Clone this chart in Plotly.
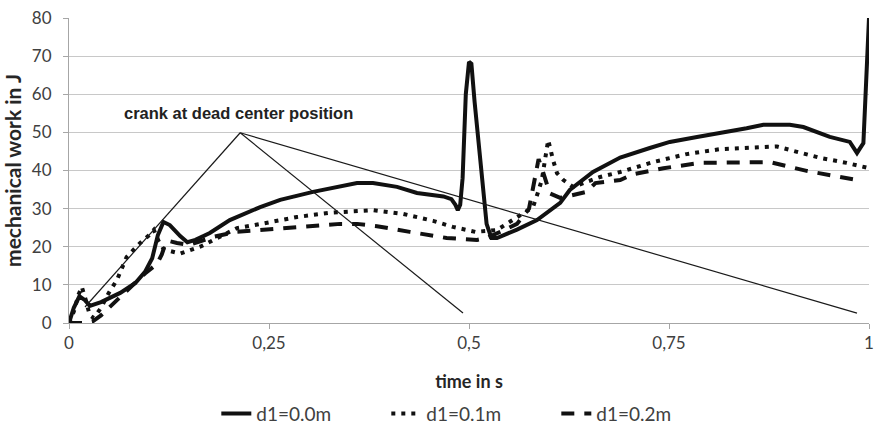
import plotly.graph_objects as go

# ---- data ----
time_d00 = [0, 0.006, 0.013, 0.02, 0.026, 0.04, 0.064, 0.083, 0.095, 0.104, 0.111, 0.118, 0.126,
            0.139, 0.148, 0.158, 0.176, 0.201, 0.239, 0.264, 0.305, 0.34, 0.36, 0.38, 0.41, 0.435,
            0.468, 0.478, 0.483, 0.486, 0.489, 0.492, 0.496, 0.5, 0.503, 0.507, 0.515, 0.522, 0.528,
            0.535, 0.56, 0.585, 0.614, 0.626, 0.655, 0.689, 0.726, 0.751, 0.785, 0.814, 0.847, 0.868,
            0.889, 0.901, 0.918, 0.951, 0.976, 0.985, 0.993, 0.997, 1.0]
work_d00 = [0, 4, 7, 6, 4.5, 5.5, 7.9, 10.5, 13.4, 17, 23, 26.5, 25.7,
            22.8, 21.2, 21.8, 23.6, 27, 30.4, 32.3, 34.4, 36, 36.7, 36.7, 35.7, 34.1,
            33.2, 32.5, 31, 29.6, 31, 38, 60, 68.5, 68, 58, 40, 26, 22.3,
            22.3, 24.5, 27, 31.5, 34.9, 39.6, 43.4, 45.9, 47.5, 48.8, 49.8, 51.1, 52,
            51.9, 52, 51.4, 48.8, 47.5, 44.6, 47.2, 65, 80]

time_d01 = [0, 0.006, 0.012, 0.016, 0.021, 0.026, 0.031, 0.04, 0.05, 0.06, 0.072, 0.089, 0.1,
            0.106, 0.112, 0.118, 0.124, 0.139, 0.164, 0.189, 0.21, 0.23, 0.251, 0.285, 0.326,
            0.368, 0.38, 0.418, 0.443, 0.455, 0.48, 0.508, 0.535, 0.555, 0.57, 0.58, 0.586, 0.591,
            0.595, 0.599, 0.605, 0.61, 0.618, 0.63, 0.664, 0.689, 0.73, 0.772, 0.814, 0.855, 0.885,
            0.91, 0.939, 0.972, 1.0]
work_d01 = [0, 3, 7.5, 9.5, 6, 2, 1.3, 4, 8, 11.3, 17.3, 21, 23,
            24.4, 21.5, 19.5, 19, 18.2, 20, 22.6, 24.9, 25.6, 26.5, 27.8, 28.9,
            29.6, 29.6, 28.6, 27.5, 26.8, 25.2, 23.9, 24.4, 27, 29, 30.4, 34.1, 37.5,
            42.8, 48, 42.8, 39.3, 37.5, 35.7, 38.3, 39.6, 42.2, 44.3, 45.6, 45.9, 46.3,
            44.9, 43.3, 42, 40.6]

time_d02 = [0, 0.02, 0.03, 0.04, 0.05, 0.06, 0.07, 0.08, 0.095, 0.11, 0.116, 0.12, 0.125, 0.135,
            0.15, 0.165, 0.18, 0.21, 0.243, 0.285, 0.339, 0.36, 0.385, 0.426, 0.472, 0.51, 0.522,
            0.54, 0.56, 0.575, 0.58, 0.587, 0.592, 0.601, 0.614, 0.63, 0.647, 0.658, 0.689, 0.705,
            0.743, 0.789, 0.835, 0.876, 0.922, 0.968, 0.99]
work_d02 = [0, 0, 0.5, 2, 4, 6, 8, 10, 13, 15.5, 18, 20.5, 21.5, 21,
            20.5, 21.5, 22.6, 23.9, 24.4, 25.2, 26, 26, 25.4, 23.9, 22.3, 21.8, 22.3,
            24, 26, 30, 36, 43, 40, 34, 32.8, 33.5, 34.4, 36.7, 37.5, 39,
            40.6, 42, 42.2, 42.2, 39.9, 38, 37.3]

series_names = ["d1=0.0m", "d1=0.1m", "d1=0.2m"]

x_tick_vals = [0, 0.25, 0.5, 0.75, 1]
x_tick_text = ["0", "0,25", "0,5", "0,75", "1"]
y_tick_vals = [0, 10, 20, 30, 40, 50, 60, 70, 80]

# annotation ("crank at dead center position") pointer lines: apex and three ends
pointer_apex = (0.214, 49.9)
pointer_ends_x = [0.02, 0.4925, 0.985]
pointer_ends_y = [4.2, 2.6, 2.6]
note_text = "crank at dead center position"
note_pos = (0.212, 55.1)

# ---- figure ----
ink = "#111111"
fig = go.Figure()
fig.add_trace(go.Scatter(x=time_d00, y=work_d00, name=series_names[0], mode="lines",
                         line=dict(color=ink, width=4)))
fig.add_trace(go.Scatter(x=time_d01, y=work_d01, name=series_names[1], mode="lines",
                         line=dict(color=ink, width=4, dash="4px,6px")))
fig.add_trace(go.Scatter(x=time_d02, y=work_d02, name=series_names[2], mode="lines",
                         line=dict(color=ink, width=4, dash="13px,10px")))

for ex, ey in zip(pointer_ends_x, pointer_ends_y):
    fig.add_shape(type="line", xref="x", yref="y",
                  x0=pointer_apex[0], y0=pointer_apex[1], x1=ex, y1=ey,
                  line=dict(color="#1a1a1a", width=1.2))

fig.add_annotation(x=note_pos[0], y=note_pos[1], xref="x", yref="y",
                   text=note_text, showarrow=False, xanchor="center", yanchor="middle",
                   font=dict(family="Liberation Sans, Arial", size=16.5, color="#222222", weight="bold"))

fig.update_layout(
    width=874, height=429,
    margin=dict(l=69, r=5, t=18, b=106),
    paper_bgcolor="white", plot_bgcolor="white",
    font=dict(family="Lato, Open Sans, sans-serif", color="#404040"),
    showlegend=True,
    legend=dict(orientation="h", xref="container", yref="container",
                x=0.2475, xanchor="left", y=0.036, yanchor="middle",
                font=dict(size=19, color="#404040"), entrywidth=125),
)
fig.update_xaxes(range=[0, 1], tickvals=x_tick_vals, ticktext=x_tick_text, automargin=False,
                 ticklabeloverflow="allow",
                 showgrid=False, zeroline=False, showline=True, linecolor="#a6a6a6", linewidth=1,
                 ticks="outside", ticklen=5, tickcolor="#a6a6a6",
                 tickfont=dict(size=17, color="#404040"),
                 title=dict(text="<b>time in s</b>", font=dict(size=18, color="#262626"), standoff=22))
fig.update_yaxes(range=[0, 80], tickvals=y_tick_vals, automargin=False,
                 ticklabeloverflow="allow",
                 showgrid=True, gridcolor="#c8c8c8", gridwidth=1, zeroline=False,
                 showline=True, linecolor="#a6a6a6", linewidth=1,
                 ticks="outside", ticklen=5, tickcolor="#a6a6a6", ticklabelstandoff=8,
                 tickfont=dict(size=17, color="#404040"),
                 title=dict(text="<b>mechanical work in J</b>", font=dict(size=21, color="#262626"), standoff=8))

# remove the default 8px page margin so the 874x429 figure fills the window exactly
fig.write_html("out.html", config={"displayModeBar": False},
               post_script="document.body.style.margin='0';document.body.style.overflow='hidden';")
